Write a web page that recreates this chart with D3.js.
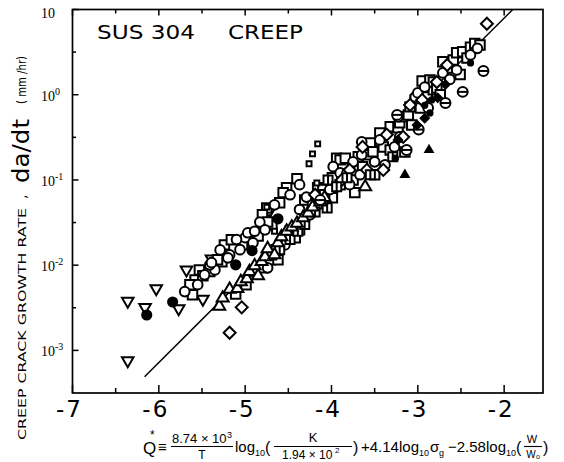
<!DOCTYPE html>
<html><head><meta charset="utf-8">
<script src="https://cdn.jsdelivr.net/npm/d3@7"></script>
<style>body{margin:0;background:#fff}svg{display:block}</style>
</head><body>
<svg id="c" width="564" height="462"></svg>
<script>
// ---- axis data ----
const xTicks = [-7, -6, -5, -4, -3, -2];
const xMinor = [-6.5, -5.5, -4.5, -3.5, -2.5];
const yTicks = [10, 1, 0.1, 0.01, 0.001];
const yTickBase = ["10", "10", "10", "10", "10"];
const yTickSup = ["", "0", "-1", "-2", "-3"];
const yMinor = [3.162, 0.3162, 0.03162, 0.003162];

// ---- fitted line (Q*, da/dt) ----
const fitLine = [[-6.165, 4.9e-4], [-1.90, 10]];

// ---- data series (Q*, da/dt mm/hr) ----
const triDown = [[-6.36,7.6e-4],[-6.36,3.8e-3],[-6.16,3.2e-3],[-6.03,5.3e-3],[-5.77,3.1e-3],[-5.68,8.8e-3],[-5.49,4.0e-3],[-5.39,1.19e-2],[-4.73,4.1e-2]];
const dotFilled = [[-6.14,2.6e-3],[-5.84,3.7e-3],[-5.11,1.01e-2],[-4.92,1.48e-2],[-4.62,3.5e-2]];
const triUp = [[-5.30,3.3e-3],[-5.26,4.1e-3],[-5.18,5.2e-3],[-5.09,5.3e-3],[-5.05,6.4e-3],[-4.98,6.9e-3],[-4.95,8.4e-3],[-4.85,7.5e-3],[-4.89,9.8e-3],[-4.81,1.10e-2],[-4.77,1.25e-2],[-4.74,1.56e-2],[-4.66,1.32e-2],[-4.62,1.83e-2],[-4.58,2.15e-2],[-4.52,2.5e-2],[-4.46,2.8e-2],[-4.40,3.1e-2],[-4.33,3.6e-2],[-4.27,4.1e-2],[-4.22,4.8e-2],[-4.13,5.5e-2],[-4.08,6.2e-2],[-3.61,8.3e-2]];
const squares = [[-5.11,4.6e-3],[-4.99,5.9e-3],[-4.88,8.4e-3],[-4.80,9.3e-3],[-4.71,1.16e-2],[-4.64,1.52e-2],[-4.55,2.0e-2],[-4.48,2.5e-2],[-4.41,2.7e-2],
[-4.37,2.6e-2],[-4.31,5.8e-2],[-4.22,5.1e-2],[-4.16,8.1e-2],[-4.10,7.7e-2],[-3.99,0.106],[-3.99,6.2e-2],[-3.94,0.18],[-3.87,0.143],[-3.75,0.10],[-3.69,0.187],[-3.64,0.143],[-3.59,0.197],[-3.55,0.272],[-3.52,0.214],[-3.44,0.356],[-3.40,0.244],[-3.32,0.42],[-3.32,0.225],[-3.23,0.41],[-3.21,0.47],[-3.15,0.55],[-3.11,0.58],[-3.09,0.72],[-3.03,0.87],[-2.97,0.70],[-2.95,1.45],[-2.89,0.94],[-2.86,1.49],[-2.82,1.14],[-2.82,1.41],[-2.78,1.2],[-2.71,2.43],[-2.63,2.06],[-2.59,2.56],[-2.55,3.1],[-2.48,3.2],[-2.43,2.7],[-2.39,3.6],[-2.34,4.0],
[-3.15,0.213],[-3.90,8.8e-2],[-3.73,7.1e-2],[-3.50,0.115],[-3.07,0.44],[-2.74,1.0],[-2.51,1.73],[-2.28,3.84],[-4.08,6.7e-2],[-4.42,2.1e-2],[-4.62,1.16e-2],
[-4.40,0.103],[-4.52,8.1e-2],[-4.56,7.1e-2],[-4.60,5.4e-2],[-4.75,4.7e-2],[-4.77,3.4e-2],[-4.80,3.9e-2],[-4.69,3.0e-2],[-4.74,3.2e-2],[-4.85,2.2e-2],[-5.24,1.73e-2],[-5.16,1.99e-2],[-4.97,2.0e-2],[-5.03,1.73e-2],[-5.27,1.10e-2],[-5.32,1.16e-2],[-5.58,6.7e-3],[-5.53,8.8e-3],[-5.49,7.5e-3],[-5.41,8.4e-3],[-5.61,4.5e-3],[-5.64,5.9e-3],[-3.90,0.172],[-3.84,0.18]];
const circles = [[-5.18,1.32e-2],[-5.06,1.52e-2],[-5.00,2.1e-2],[-5.10,2.0e-2],[-5.20,1.22e-2],[-5.55,5.9e-3],[-5.70,4.9e-3],[-5.35,8.8e-3],[-5.47,7.7e-3],[-5.41,1.01e-2],[-5.39,1.07e-2],[-5.29,1.51e-2],[-4.91,1.83e-2],[-4.97,2.4e-2],[-4.89,2.5e-2],[-4.83,3.2e-2],[-4.77,2.6e-2],[-4.66,5.1e-2],[-4.48,6.7e-2],[-4.37,8.8e-2],[-4.29,6.3e-2],
[-4.37,4.5e-2],[-4.25,3.9e-2],[-4.16,5.1e-2],[-3.96,8.1e-2],[-4.02,7.7e-2],[-3.98,0.143],[-3.90,0.121],[-3.82,0.121],[-3.79,8.8e-2],[-3.75,0.163],[-3.67,0.115],[-3.65,0.197],[-3.65,0.28],[-3.50,0.163],[-3.38,0.150],[-3.44,0.295],[-3.27,0.244],[-3.23,0.55],[-3.21,0.32],[-3.03,0.94],[-3.0,1.05],[-2.92,1.23],[-2.88,0.70],[-2.71,1.80],[-2.63,1.51],[-2.55,1.95],[-2.39,2.93],[-2.31,3.5],
[-4.54,1.73e-2],[-4.74,9.3e-3]];
const diamonds = [[-2.20,6.8],[-5.04,3.2e-3],[-5.18,1.61e-3],[-4.54,2.3e-2],[-4.19,6.7e-2],[-3.88,0.10],[-3.79,0.131],[-3.59,0.131],[-3.40,0.131],[-3.36,0.34],[-3.17,0.32],[-3.09,0.76],[-2.95,0.87],[-2.78,1.41],[-2.66,2.23],[-3.64,0.244]];
const thetas = [[-2.24,1.90],[-2.48,1.08],[-2.68,0.80],[-2.99,0.39],[-3.24,0.58],[-3.13,0.225],[-4.13,5.8e-2]];
const linedSquares = [[-4.69,1.32e-2],[-4.60,1.52e-2],[-4.48,2.0e-2],[-4.39,2.5e-2],[-4.31,3.0e-2],[-4.19,4.2e-2],[-4.05,4.7e-2],[-4.04,0.10],[-3.94,8.3e-2],[-3.82,0.106],[-3.55,0.115],[-3.29,0.187]];
const smallSquares = [[-4.16,0.265],[-4.22,0.202],[-4.26,0.155],[-4.17,9.2e-2],[-4.75,4.8e-2],[-4.66,2.5e-2]];
const triFilled = [[-2.87,0.225],[-3.15,0.115]];
const smallDots = [[-2.86,0.61],[-3.26,0.18],[-2.39,2.36],[-2.84,0.87],[-2.92,0.75]];
const filledDiamonds = [[-2.77,0.92],[-2.68,1.32],[-2.92,0.53],[-3.01,0.44],[-3.23,0.295]];

// ---- layout ----
const svg = d3.select("#c");
const L = 72.5, R = 543, T = 9.5, B = 393;
const x = d3.scaleLinear().domain([-7, -1.55]).range([L, R]);
const y = d3.scaleLog().domain([Math.pow(10, -3.5), 10]).range([B, T]);
const ink = "#000";

// fit line (under markers)
svg.append("path").datum(fitLine)
  .attr("d", d3.line().x(d => x(d[0])).y(d => y(d[1])))
  .attr("fill", "none").attr("stroke", ink).attr("stroke-width", 1.5);

// markers
const mk = svg.append("g").attr("stroke", ink).attr("stroke-width", 2);
function series(data, type, size, fill, extra, rot) {
  const g = mk.append("g");
  const sel = g.selectAll("g").data(data).enter().append("g")
    .attr("transform", d => `translate(${x(d[0])},${y(d[1])})` + (rot ? ` rotate(${rot})` : ""));
  sel.append("path").attr("d", d3.symbol().type(type).size(size)()).attr("fill", fill);
  if (extra) sel.append("path").attr("d", extra).attr("fill", "none");
}
series(triDown, d3.symbolTriangle, 58, "#fff", null, 180);
series(squares, d3.symbolSquare, 90, "#fff");
series(circles, d3.symbolCircle, 74, "#fff");
series(diamonds, d3.symbolSquare, 72, "#fff", null, 45);
series(linedSquares, d3.symbolSquare, 82, "#fff", "M0,-4.5V4.5");
series(triUp, d3.symbolTriangle, 62, "#fff");
series(thetas, d3.symbolCircle, 78, "#fff", "M-5,0H5");
series(smallSquares, d3.symbolSquare, 24, "#fff");
series(dotFilled, d3.symbolCircle, 66, ink);
series(triFilled, d3.symbolTriangle, 24, ink);
series(smallDots, d3.symbolCircle, 22, ink);
series(filledDiamonds, d3.symbolSquare, 34, ink, null, 45);

// frame
svg.append("rect").attr("x", x(-7)).attr("y", y(10))
  .attr("width", x(-1.55) - x(-7)).attr("height", y(Math.pow(10, -3.5)) - y(10))
  .attr("fill", "none").attr("stroke", ink).attr("stroke-width", 1.7);

// ticks (inward), drawn with the scales
function ticks(vals, pos, len) {
  vals.forEach(v => {
    const ln = svg.append("line").attr("stroke", ink).attr("stroke-width", 1.5);
    if (pos === "bottom") ln.attr("x1", x(v)).attr("x2", x(v)).attr("y1", B).attr("y2", B - len);
    if (pos === "top") ln.attr("x1", x(v)).attr("x2", x(v)).attr("y1", T).attr("y2", T + len);
    if (pos === "left") ln.attr("x1", L).attr("x2", L + len).attr("y1", y(v)).attr("y2", y(v));
  });
}
ticks(xTicks, "bottom", 8); ticks(xMinor, "bottom", 5);
ticks(xTicks, "top", 6); ticks(xMinor, "top", 4);
ticks(yTicks, "left", 6); ticks(yMinor, "left", 3.5);

// x tick labels
svg.append("g").selectAll("text").data(xTicks).enter().append("text")
  .attr("x", d => x(d) - 4).attr("y", 417)
  .attr("text-anchor", "middle")
  .attr("font-family", "DejaVu Sans, sans-serif").attr("font-size", 23)
  .attr("fill", ink)
  .text(d => "-" + Math.abs(d))
  .attr("textLength", 25).attr("lengthAdjust", "spacing");

// y tick labels
yTicks.forEach((v, i) => {
  const t = svg.append("text").attr("x", 41).attr("y", y(v) + (i === 0 ? 8 : 6))
    .attr("font-family", "Liberation Serif, serif").attr("font-size", 14).attr("fill", ink)
    .text(yTickBase[i]);
  if (yTickSup[i]) t.append("tspan").attr("dy", -6).attr("font-size", 10).text(yTickSup[i]);
});

// title
svg.append("text").attr("x", 97).attr("y", 39).attr("font-family", "DejaVu Sans, sans-serif")
  .attr("font-size", 20).attr("fill", ink).attr("textLength", 98).attr("lengthAdjust", "spacingAndGlyphs").text("SUS 304");
svg.append("text").attr("x", 228).attr("y", 39).attr("font-family", "DejaVu Sans, sans-serif")
  .attr("font-size", 20).attr("fill", ink).attr("textLength", 75).attr("lengthAdjust", "spacingAndGlyphs").text("CREEP");

// y axis title
const yt = svg.append("g").attr("font-family", "DejaVu Sans, sans-serif").attr("fill", ink);
yt.append("text").attr("transform", "translate(26,440) rotate(-90)").attr("font-size", 11)
  .attr("textLength", 232).attr("lengthAdjust", "spacingAndGlyphs").text("CREEP CRACK GROWTH RATE");
yt.append("text").attr("transform", "translate(26,199) rotate(-90)").attr("font-size", 14).text(",");
yt.append("text").attr("transform", "translate(29,183) rotate(-90)")
  .attr("font-size", 23).attr("textLength", 64).attr("lengthAdjust", "spacingAndGlyphs").text("da/dt");
yt.append("text").attr("transform", "translate(26,104) rotate(-90)").attr("font-size", 12)
  .attr("textLength", 48).attr("lengthAdjust", "spacingAndGlyphs").text("( mm /hr)");

// x axis formula
const fx = svg.append("g").attr("font-family", "Liberation Sans, Arial, sans-serif").attr("fill", ink);
function ft(xp, yp, s, txt, anchor) {
  const t = fx.append("text").attr("x", xp).attr("y", yp).attr("font-size", s).text(txt);
  if (anchor) t.attr("text-anchor", anchor);
  return t;
}
function bar(x1, x2) {
  fx.append("line").attr("x1", x1).attr("x2", x2).attr("y1", 446.5).attr("y2", 446.5).attr("stroke", ink).attr("stroke-width", 1.1);
}
ft(143, 454, 17, "Q");
ft(150, 439, 12, "*");
ft(158, 452, 15, "≡");
ft(172, 443, 13, "8.74 × 10");
ft(227, 438, 9, "3");
bar(171, 233);
ft(202, 459, 12, "T", "middle");
ft(235, 452, 15, "log");
ft(255, 456, 9, "10");
ft(265, 453, 16, "(");
ft(313, 442, 13, "K", "middle");
bar(274, 352);
ft(282, 459, 12, "1.94 × 10");
ft(335, 453, 8, "2");
ft(353, 453, 16, ")");
ft(361, 452, 15, "+4.14log");
ft(419, 456, 9, "10");
ft(430, 452, 15, "σ");
ft(439, 456, 9, "g");
ft(448, 452, 15, "−2.58log");
ft(506, 456, 9, "10");
ft(516, 453, 16, "(");
ft(532, 443, 11, "W", "middle");
bar(524, 542);
ft(531, 458, 10, "W", "middle");
ft(536, 459, 7, "o");
ft(543, 453, 16, ")");
</script>
</body></html>
